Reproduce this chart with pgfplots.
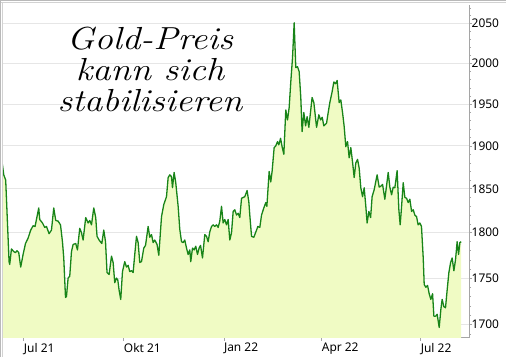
\documentclass[border=0pt]{standalone}
\usepackage{pgfplots}
\pgfplotsset{compat=1.18}
\usepackage{pgfplotstable}
\usepackage{fontspec}
\newfontfamily\tickfont{Noto Sans}
\definecolor{fillc}{RGB}{240,251,196}
\definecolor{linec}{RGB}{24,132,24}
\definecolor{gridc}{RGB}{230,230,230}
\definecolor{axc}{RGB}{165,165,165}

\pgfplotstableread{
d p
-19.6 1878
-18.4 1866
-16.6 1860
-13.5 1768
-12.9 1765
-11.3 1782
-9.2 1779
-7.6 1778
-6.2 1780
-4.6 1778
-2.8 1762
-0.6 1776
1.6 1788
4.0 1794
6.4 1803
8.6 1808
10.4 1807
13.8 1828
14.7 1815
17.2 1811
19.3 1806
20.9 1807
23.3 1799
25.5 1803
27.6 1828
29.4 1814
31.6 1813
33.8 1809
35.6 1790
36.8 1772
38.4 1729
39.3 1730
40.8 1750
42.3 1752
43.9 1779
45.4 1787
47.8 1788
49.4 1781
51.5 1805
53.1 1800
54.6 1792
57.0 1817
59.2 1811
60.7 1814
62.3 1809
64.4 1828
66.2 1817
67.4 1796
69.3 1792
71.8 1788
73.6 1803
75.2 1790
76.6 1756
78.5 1754
80.7 1774
82.2 1767
83.7 1745
85.3 1750
86.5 1748
87.7 1737
89.2 1727
90.8 1757
92.9 1768
94.5 1762
96.0 1764
97.5 1757
99.1 1758
100.6 1756
102.1 1776
103.7 1796
105.2 1789
106.7 1767
108.3 1768
110.4 1783
112.0 1786
114.4 1807
115.9 1795
117.5 1798
119.0 1789
120.5 1792
122.6 1787
124.2 1775
126.7 1818
128.8 1832
131.3 1841
132.8 1863
134.3 1866
135.9 1864
136.8 1851
138.3 1869
139.8 1857
142.0 1830
143.5 1804
145.1 1790
146.6 1789
148.1 1792
149.7 1783
151.2 1776
152.7 1781
153.6 1768
155.2 1783
156.7 1781
158.2 1785
159.8 1776
161.3 1783
162.6 1786
164.4 1772
166.5 1798
168.1 1796
169.6 1790
171.1 1801
172.7 1807
174.2 1809
175.7 1807
177.3 1809
178.8 1806
180.3 1813
181.9 1830
183.4 1811
184.9 1815
186.5 1809
188.0 1815
189.5 1792
191.1 1800
192.6 1824
194.1 1826
195.7 1820
197.2 1822
198.7 1817
200.3 1839
203.3 1841
205.4 1848
207.0 1835
207.9 1820
209.5 1796
211.6 1795
214.1 1803
215.3 1807
217.1 1806
218.7 1820
220.8 1828
222.6 1834
223.6 1830
225.7 1870
227.2 1858
228.4 1870
230.3 1898
231.8 1900
233.4 1905
234.6 1901
236.2 1909
237.6 1899
239.2 1890
241.0 1943
242.6 1931
244.1 1946
245.6 1977
247.2 2007
248.7 2051
250.2 1995
251.8 1996
253.3 1990
254.8 1958
256.0 1917
257.6 1940
259.2 1924
260.6 1935
262.2 1922
265.2 1958
266.8 1952
269.3 1922
271.4 1937
273.0 1931
274.5 1934
276.0 1924
278.5 1927
280.0 1940
281.5 1952
283.6 1965
285.2 1977
286.8 1975
288.2 1979
290.1 1952
291.6 1955
293.2 1940
294.7 1923
296.2 1899
297.8 1905
299.3 1886
300.8 1898
302.4 1881
303.9 1863
305.4 1880
307.0 1884
308.5 1874
310.0 1851
311.6 1841
313.1 1851
314.6 1830
315.8 1811
317.4 1824
319.0 1817
320.4 1841
322.3 1849
325.0 1866
326.9 1852
328.4 1853
330.0 1855
332.1 1838
335.2 1869
336.7 1852
338.3 1843
339.8 1852
341.3 1851
343.4 1871
345.0 1826
346.2 1809
347.5 1830
349.0 1857
350.5 1840
352.1 1839
353.6 1834
355.1 1838
356.7 1824
358.2 1826
359.7 1820
361.3 1818
362.7 1809
364.3 1811
365.8 1807
367.4 1772
368.3 1743
369.8 1740
371.4 1742
372.9 1733
374.4 1727
376.0 1733
377.2 1709
378.8 1709
380.2 1711
382.1 1697
383.6 1716
384.8 1727
386.4 1719
387.9 1718
389.4 1737
391.0 1756
392.6 1767
394.0 1772
395.6 1758
397.1 1770
398.6 1790
399.9 1776
401.1 1789
402.3 1790
}\gold

\begin{document}
\begin{tikzpicture}
\begin{axis}[
  at={(2bp,19bp)}, anchor=south west,
  width=467bp, height=333bp, scale only axis,
  ymode=log,
  ymin=1686, ymax=2074, xmin=-20, xmax=409.5,
  axis x line=bottom, axis y line=right,
  axis line style={-, draw=axc, line width=0.8bp},
  ytick={1700,1750,1800,1850,1900,1950,2000,2050},
  yticklabels={1700,1750,1800,1850,1900,1950,2000,2050},
  minor ytick={1690,1710,1720,1730,1740,1760,1770,1780,1790,1810,1820,1830,1840,1860,1870,1880,1890,1910,1920,1930,1940,1960,1970,1980,1990,2010,2020,2030,2040,2060,2070},
  ymajorgrids, major grid style={draw=gridc, line width=0.9bp},
  xtick={0,92,184,274,365},
  xticklabels={Jul 21,Okt 21,Jan 22,Apr 22,Jul 22},
  tick align=outside,
  major tick length=3bp, minor tick length=2bp,
  every tick/.style={draw=axc, line width=0.6bp},
  xticklabel style={anchor=north west, inner sep=0pt, yshift=-2bp},
  yticklabel style={anchor=west, inner sep=0pt, xshift=-0.5bp},
  ticklabel style={font=\tickfont\fontsize{12}{12}\selectfont},
  /pgf/number format/assume math mode=true,
  clip=true,
]
\addplot[fill=fillc, draw=none] table[x=d,y=p]{\gold} -- (axis cs:402.3,1686) -- (axis cs:-19.6,1686) -- cycle;
\addplot[draw=linec, line width=1.3bp, line join=round] table[x=d,y=p]{\gold};
\end{axis}
% frame lines at top and left
\draw[gray!55, line width=0.8bp] (0,356.3bp) -- (506bp,356.3bp);
\draw[gray!35, line width=0.8bp] (0,354.5bp) -- (506bp,354.5bp);
\draw[gray!55, line width=0.8bp] (0.7bp,0) -- (0.7bp,357bp);
\draw[gray!35, line width=0.8bp] (2.5bp,0) -- (2.5bp,355bp);
% title
\node[anchor=base, xscale=1.15, font=\itshape\fontsize{32}{32}\selectfont] at (150bp,307bp) {Gold-Preis};
\node[anchor=base, xscale=1.15, font=\itshape\fontsize{32}{32}\selectfont] at (150bp,276bp) {kann sich};
\node[anchor=base, xscale=1.15, font=\itshape\fontsize{32}{32}\selectfont] at (150bp,245bp) {stabilisieren};
\pgfresetboundingbox
\path[use as bounding box] (0,0) rectangle (506bp,357bp);
\end{tikzpicture}
\end{document}
